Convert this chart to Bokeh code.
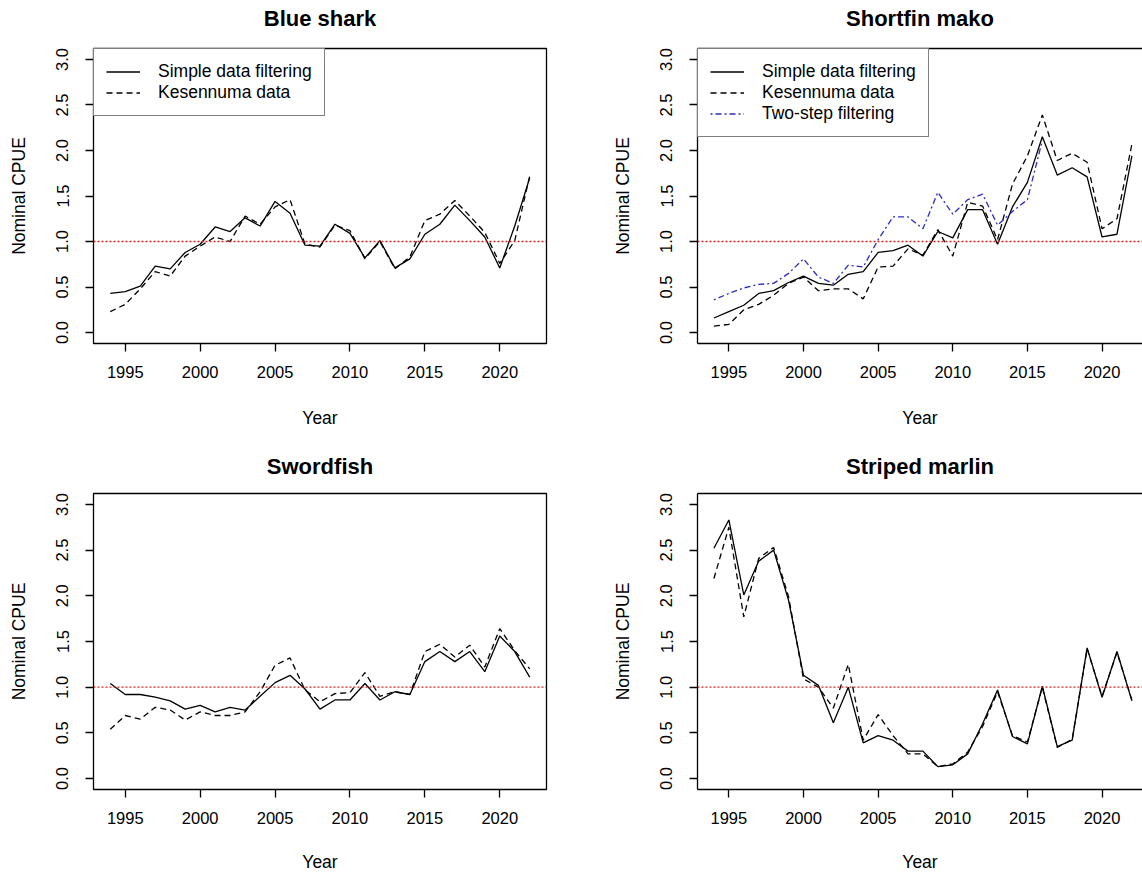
from bokeh.plotting import figure
from bokeh.layouts import gridplot
from bokeh.models import Range1d, FixedTicker, Span, LinearAxis, NumeralTickFormatter
from bokeh.embed import file_html
from bokeh.resources import INLINE

years = list(range(1994, 2023))
years_two = list(range(1994, 2017))

bsh_simple = [0.43, 0.45, 0.51, 0.73, 0.70, 0.88, 0.97, 1.16, 1.11, 1.26, 1.17, 1.44, 1.31, 0.96, 0.95,
              1.19, 1.09, 0.82, 1.01, 0.71, 0.81, 1.08, 1.19, 1.40, 1.23, 1.05, 0.71, 1.17, 1.70]
bsh_kesen = [0.23, 0.31, 0.48, 0.67, 0.62, 0.84, 0.95, 1.05, 1.00, 1.28, 1.19, 1.38, 1.46, 0.97, 0.94,
             1.18, 1.12, 0.81, 1.00, 0.70, 0.83, 1.23, 1.30, 1.45, 1.28, 1.10, 0.76, 1.01, 1.72]

smk_simple = [0.16, 0.23, 0.30, 0.43, 0.46, 0.55, 0.62, 0.54, 0.52, 0.64, 0.67, 0.88, 0.90, 0.96, 0.84,
              1.11, 1.04, 1.35, 1.35, 0.97, 1.38, 1.65, 2.15, 1.73, 1.81, 1.71, 1.05, 1.08, 1.94]
smk_kesen = [0.07, 0.09, 0.25, 0.31, 0.41, 0.54, 0.61, 0.46, 0.48, 0.48, 0.37, 0.72, 0.73, 0.92, 0.85,
             1.13, 0.84, 1.43, 1.39, 1.02, 1.63, 1.94, 2.39, 1.89, 1.97, 1.87, 1.14, 1.25, 2.07]
smk_two = [0.36, 0.43, 0.49, 0.53, 0.54, 0.65, 0.81, 0.61, 0.54, 0.74, 0.72, 1.02, 1.27, 1.27, 1.14,
           1.54, 1.30, 1.46, 1.52, 1.18, 1.33, 1.46, 2.11]

swo_simple = [1.04, 0.92, 0.92, 0.89, 0.85, 0.76, 0.80, 0.73, 0.78, 0.75, 0.90, 1.05, 1.13, 0.98, 0.76,
              0.86, 0.86, 1.04, 0.86, 0.95, 0.92, 1.28, 1.39, 1.28, 1.39, 1.17, 1.56, 1.39, 1.11]
swo_kesen = [0.54, 0.69, 0.65, 0.78, 0.75, 0.64, 0.73, 0.69, 0.69, 0.73, 0.95, 1.24, 1.32, 0.97, 0.84,
             0.93, 0.94, 1.16, 0.90, 0.95, 0.92, 1.39, 1.47, 1.33, 1.46, 1.22, 1.64, 1.40, 1.20]

mls_simple = [2.52, 2.83, 2.01, 2.38, 2.50, 1.95, 1.13, 1.02, 0.61, 1.00, 0.39, 0.47, 0.42, 0.30, 0.30,
              0.13, 0.15, 0.27, 0.60, 0.97, 0.46, 0.38, 1.01, 0.35, 0.42, 1.43, 0.89, 1.39, 0.85]
mls_kesen = [2.19, 2.75, 1.77, 2.41, 2.53, 1.99, 1.09, 1.00, 0.77, 1.25, 0.42, 0.70, 0.47, 0.27, 0.27,
             0.13, 0.16, 0.29, 0.57, 0.95, 0.47, 0.40, 1.00, 0.34, 0.43, 1.42, 0.90, 1.38, 0.86]

titles = ["Blue shark", "Shortfin mako", "Swordfish", "Striped marlin"]
label_simple = "Simple data filtering"
label_kesen = "Kesennuma data"
label_two = "Two-step filtering"
x_ticks = [1995, 2000, 2005, 2010, 2015, 2020]
y_ticks = [0.0, 0.5, 1.0, 1.5, 2.0, 2.5, 3.0]

FONT = "Liberation Sans"
LW = 1.3


def style_axis(ax, label, standoff_lab, standoff_ax, line_on):
    ax.axis_label = label
    ax.axis_label_text_font = FONT
    ax.axis_label_text_font_size = "17.5px"
    ax.axis_label_text_font_style = "normal"
    ax.axis_label_text_color = "black"
    ax.axis_label_standoff = standoff_ax
    ax.major_label_text_font = FONT
    ax.major_label_text_font_size = "16.5px"
    ax.major_label_text_color = "black"
    ax.major_label_standoff = standoff_lab
    ax.major_tick_in = 0
    ax.major_tick_out = 8
    ax.major_tick_line_color = "black"
    ax.major_tick_line_width = LW
    ax.minor_tick_line_color = None
    if line_on:
        ax.axis_line_color = "black"
        ax.axis_line_width = LW
    else:
        ax.axis_line_color = None


def make_panel(idx, left_col, top_row, series, legend_on):
    if left_col:
        fw, xr = 453, Range1d(1992.88, 2023.12)
        mbl, mbr = 93, 62
    else:
        fw, xr = 445, Range1d(1992.90, 2022.71)
        mbl, mbr = 89, 0
    if top_row:
        fh, mbt, mbb, year_sd, title_sd = 295, 48, 107, 27, 18
    else:
        fh, mbt, mbb, year_sd, title_sd = 296, 43, 87, 25, 15
    p = figure(frame_width=fw, frame_height=fh, x_range=xr, y_range=Range1d(-0.12, 3.12),
               min_border_left=mbl, min_border_right=mbr, min_border_top=mbt, min_border_bottom=mbb,
               output_backend="svg", toolbar_location=None, background_fill_color="white",
               border_fill_color="white")
    p.xgrid.visible = False
    p.ygrid.visible = False

    xax = p.below[0]
    yax = p.left[0]
    xax.ticker = FixedTicker(ticks=x_ticks)
    yax.ticker = FixedTicker(ticks=y_ticks)
    yax.formatter = NumeralTickFormatter(format="0.0")
    yax.major_label_orientation = "vertical"

    # top axis: carries the panel title (and the top border line on the right-hand panels)
    top_ax = LinearAxis(ticker=FixedTicker(ticks=[]), major_tick_line_color=None,
                        minor_tick_line_color=None, major_label_standoff=0, major_tick_out=0,
                        major_tick_in=0, axis_label=titles[idx], axis_label_standoff=title_sd,
                        axis_label_text_font=FONT, axis_label_text_font_size="22px",
                        axis_label_text_font_style="bold", axis_label_text_color="black")
    if left_col:
        p.outline_line_color = "black"
        p.outline_line_width = LW
        p.outline_line_alpha = 1.0
        top_ax.axis_line_color = None
        line_on = False
    else:
        p.outline_line_color = None
        top_ax.axis_line_color = "black"
        top_ax.axis_line_width = LW
        line_on = True
    p.add_layout(top_ax, "above")
    style_axis(xax, "Year", 14, year_sd, line_on)
    style_axis(yax, "Nominal CPUE", 17, 25, line_on)

    p.add_layout(Span(location=1.0, dimension="width", line_color="#d42020", line_dash="2 2",
                      line_width=LW))

    for xs, ys, lab, color, dash in series:
        kw = dict(line_color=color, line_width=LW, line_dash=dash)
        if legend_on:
            kw["legend_label"] = lab
        p.line(xs, ys, **kw)

    if legend_on:
        lg = p.legend[0]
        lg.location = "top_left"
        lg.margin = 0
        lg.padding = 12
        lg.spacing = 0
        lg.glyph_width = 34
        lg.glyph_height = 21
        lg.label_height = 21
        lg.label_standoff = 18
        lg.label_text_font = FONT
        lg.label_text_font_size = "17.5px"
        lg.label_text_color = "black"
        lg.border_line_color = "black"
        lg.border_line_width = LW
        lg.background_fill_color = "white"
        lg.background_fill_alpha = 1.0
    return p


SOLID = "solid"
DASH = "6 4"
DOTDASH = "2 3 6 3"

p1 = make_panel(0, True, True, [
    (years, bsh_simple, label_simple, "black", SOLID),
    (years, bsh_kesen, label_kesen, "black", DASH),
], True)
p2 = make_panel(1, False, True, [
    (years, smk_simple, label_simple, "black", SOLID),
    (years, smk_kesen, label_kesen, "black", DASH),
    (years_two, smk_two, label_two, "#2b2bc0", DOTDASH),
], True)
p3 = make_panel(2, True, False, [
    (years, swo_simple, label_simple, "black", SOLID),
    (years, swo_kesen, label_kesen, "black", DASH),
], False)
p4 = make_panel(3, False, False, [
    (years, mls_simple, label_simple, "black", SOLID),
    (years, mls_kesen, label_kesen, "black", DASH),
], False)

grid = gridplot([[p1, p2], [p3, p4]], toolbar_location=None)

open("out.html", "w").write(file_html(grid, INLINE))
